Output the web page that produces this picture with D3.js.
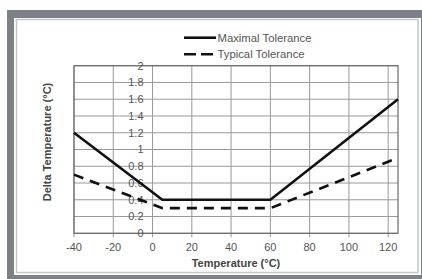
<!DOCTYPE html>
<html>
<head>
<meta charset="utf-8">
<script src="https://cdn.jsdelivr.net/npm/d3@7"></script>
<style>
  body { margin: 0; background: #fff; }
  text { font-family: "Liberation Sans", Arial, sans-serif; }
</style>
</head>
<body>
<div id="chart"></div>
<script>
// values
var temps = [-40, 5, 60, 125];
var maximal = [1.2, 0.4, 0.4, 1.6];
var typical = [0.7, 0.3, 0.3, 0.9];
var xTicks = [-40, -20, 0, 20, 40, 60, 80, 100, 120];
var yTicks = [0, 0.2, 0.4, 0.6, 0.8, 1, 1.2, 1.4, 1.6, 1.8, 2];
var seriesNames = ["Maximal Tolerance", "Typical Tolerance"];

var width = 422, height = 279;

var svg = d3.select("#chart").append("svg")
    .attr("width", width)
    .attr("height", height);

// frame
svg.append("rect").attr("x", 7).attr("y", 10).attr("width", width - 7).attr("height", height - 10).attr("fill", "#7b8186");
svg.append("rect").attr("x", 14).attr("y", 18).attr("width", 407).attr("height", 257).attr("fill", "#fff");
svg.append("rect").attr("x", 16.5).attr("y", 19.5).attr("width", 401.5).attr("height", 253).attr("fill", "none")
    .attr("stroke", "#c4c4c4").attr("stroke-width", 1.5);

var x = d3.scaleLinear().domain([-40, 125]).range([74, 398]);
var y = d3.scaleLinear().domain([0, 2]).range([233.3, 65.7]);

// grid
svg.append("g").selectAll("line").data(xTicks).join("line")
    .attr("x1", function(d) { return x(d); })
    .attr("x2", function(d) { return x(d); })
    .attr("y1", y(2))
    .attr("y2", y(0) + 4)
    .attr("stroke", "#999")
    .attr("stroke-width", 1);

svg.append("g").selectAll("line").data(yTicks).join("line")
    .attr("x1", x(-40))
    .attr("x2", x(125))
    .attr("y1", function(d) { return y(d); })
    .attr("y2", function(d) { return y(d); })
    .attr("stroke", "#999")
    .attr("stroke-width", 1);

svg.append("rect")
    .attr("x", x(-40)).attr("y", y(2))
    .attr("width", x(125) - x(-40)).attr("height", y(0) - y(2))
    .attr("fill", "none").attr("stroke", "#6a6a6a").attr("stroke-width", 1.2);

// y labels sit inside the plot, next to the 0 line
svg.append("g").selectAll("text").data(yTicks).join("text")
    .attr("x", x(0) - 9)
    .attr("y", function(d) { return y(d); })
    .attr("dy", "0.35em")
    .attr("text-anchor", "end")
    .attr("font-size", 11)
    .attr("fill", "#555")
    .text(function(d) { return d; });

// x labels
svg.append("g").selectAll("text").data(xTicks).join("text")
    .attr("x", function(d) { return x(d); })
    .attr("y", 247)
    .attr("dy", "0.35em")
    .attr("text-anchor", "middle")
    .attr("font-size", 11)
    .attr("fill", "#555")
    .text(function(d) { return d; });

// titles
svg.append("text")
    .attr("x", 236).attr("y", 263.5).attr("dy", "0.35em")
    .attr("text-anchor", "middle")
    .attr("font-size", 11).attr("font-weight", "bold").attr("fill", "#444")
    .text("Temperature (°C)");

svg.append("text")
    .attr("transform", "translate(47,142) rotate(-90)")
    .attr("dy", "0.35em")
    .attr("text-anchor", "middle")
    .attr("font-size", 11).attr("font-weight", "bold").attr("fill", "#444")
    .text("Delta Temperature (°C)");

// lines
var line = d3.line()
    .x(function(d) { return x(d[0]); })
    .y(function(d) { return y(d[1]); });

svg.append("path")
    .datum(d3.zip(temps, typical))
    .attr("d", line)
    .attr("fill", "none").attr("stroke", "#111").attr("stroke-width", 2.6)
    .attr("stroke-dasharray", "10,7");

svg.append("path")
    .datum(d3.zip(temps, maximal))
    .attr("d", line)
    .attr("fill", "none").attr("stroke", "#111").attr("stroke-width", 2.6);

// legend
var legend = svg.append("g");
seriesNames.forEach(function(name, i) {
    var ly = 37.7 + i * 16.6;
    legend.append("line")
        .attr("x1", 184).attr("x2", i === 1 ? 213 : 216)
        .attr("y1", ly).attr("y2", ly)
        .attr("stroke", "#111").attr("stroke-width", 2.6)
        .attr("stroke-dasharray", i === 1 ? "12,5" : null);
    legend.append("text")
        .attr("x", 217.5).attr("y", ly).attr("dy", "0.35em")
        .attr("font-size", 11.3).attr("fill", "#555")
        .text(name);
});
</script>
</body>
</html>
